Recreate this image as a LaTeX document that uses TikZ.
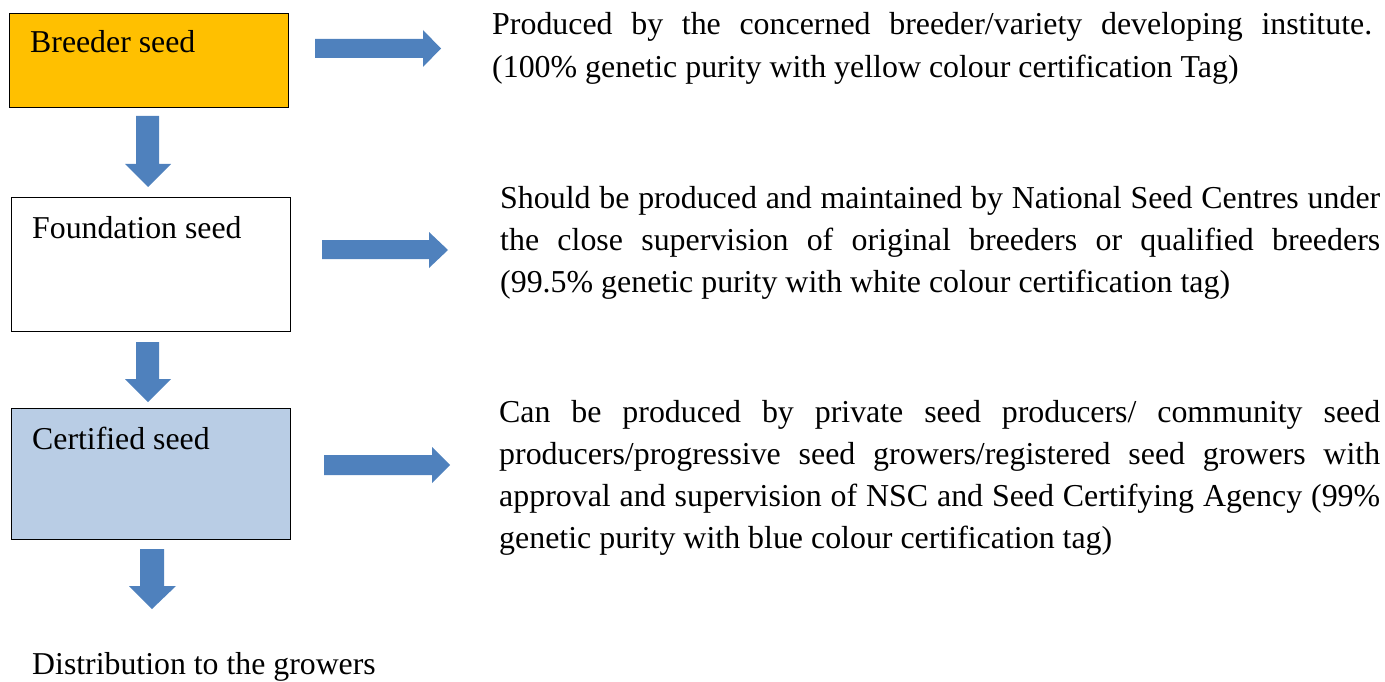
\documentclass[tikz,border=0pt]{standalone}
\usepackage{fontspec}
\setmainfont{Liberation Serif}
\definecolor{gold}{HTML}{FFC000}
\definecolor{paleblue}{HTML}{B9CDE5}
\definecolor{arrowblue}{HTML}{4F81BD}
\begin{document}
\begin{tikzpicture}[x=1pt,y=-1pt,
  box/.style={draw=black,line width=1pt,anchor=north west,inner sep=0pt},
  lbl/.style={anchor=base west,inner sep=0pt,font=\fontsize{31.8}{38}\selectfont},
  desc/.style={anchor=base west,inner sep=0pt,text width=#1,align=justify,
     font=\fontsize{31.9}{42.3}\selectfont},
  blk/.style={fill=arrowblue}]
\useasboundingbox (0,0) rectangle (1385,682);
% boxes
\node[box,fill=gold,minimum width=279pt,minimum height=94pt] (breeder) at (9,13) {};
\node[box,fill=white,minimum width=279pt,minimum height=134pt] (foundation) at (11,197) {};
\node[box,fill=paleblue,minimum width=279pt,minimum height=131pt] (certified) at (11,408) {};
% labels
\node[lbl] (lb1) at (30,53) {Breeder seed};
\node[lbl] (lb2) at (32,238) {Foundation seed};
\node[lbl] (lb3) at (32,449) {Certified seed};
\node[lbl] (dist) at (32,674) {Distribution to the growers};
% down arrows
\fill[blk] (136,116) -- (159,116) -- (159,164) -- (171,164) -- (148,187) -- (125,164) -- (136,164) -- cycle;
\fill[blk] (136,342) -- (159,342) -- (159,379) -- (171,379) -- (148,402) -- (125,379) -- (136,379) -- cycle;
\fill[blk] (140,549) -- (164,549) -- (164,586) -- (176,586) -- (152,609) -- (129,586) -- (140,586) -- cycle;
% right arrows
\fill[blk] (315,39) -- (423,39) -- (423,30) -- (441,48.5) -- (423,67) -- (423,58) -- (315,58) -- cycle;
\fill[blk] (322,240) -- (429,240) -- (429,232) -- (448,250) -- (429,268) -- (429,259) -- (322,259) -- cycle;
\fill[blk] (324,455) -- (432,455) -- (432,447) -- (450,465) -- (432,483) -- (432,475) -- (324,475) -- cycle;
% descriptions
\node[desc=880pt] (d1) at (492,35) {\hyphenpenalty=10000\tolerance=10000
Produced by the concerned breeder/variety developing institute.\linebreak
(100\% genetic purity with yellow colour certification Tag)};
\node[desc=880pt] (d2) at (500,208) {\hyphenpenalty=10000\tolerance=10000
Should be produced and maintained by National Seed Centres under\linebreak
the close supervision of original breeders or qualified breeders\linebreak
(99.5\% genetic purity with white colour certification tag)};
\node[desc=881pt] (d3) at (499,422) {\hyphenpenalty=10000\tolerance=10000
Can be produced by private seed producers/ community seed\linebreak
producers/progressive seed growers/registered seed growers with\linebreak
approval and supervision of NSC and Seed Certifying Agency (99\%\linebreak
genetic purity with blue colour certification tag)};
\end{tikzpicture}
\end{document}
